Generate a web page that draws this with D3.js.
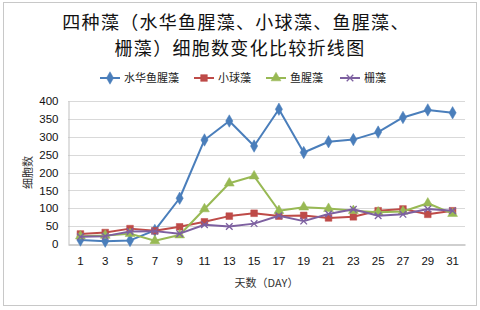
<!DOCTYPE html>
<html>
<head>
<meta charset="utf-8">
<script src="https://cdn.jsdelivr.net/npm/d3@7"></script>
<style>
  body { margin: 0; background: #fff; }
  text { font-family: "Liberation Sans", "Noto Sans CJK SC", sans-serif; }
  .cjk { font-family: "Noto Sans CJK SC", sans-serif; }
</style>
</head>
<body>
<div id="chart"></div>
<script>
// data
const days = ["1", "3", "5", "7", "9", "11", "13", "15", "17", "19", "21", "23", "25", "27", "29", "31"];
const shuihua = [11, 8, 10, 38, 128, 291, 344, 274, 377, 256, 286, 292, 313, 354, 375, 367];
const xiaoqiu = [28, 32, 43, 37, 48, 62, 78, 86, 78, 80, 73, 76, 93, 98, 83, 93];
const yuxing = [22, 24, 29, 9, 25, 98, 170, 190, 93, 103, 99, 93, 89, 91, 114, 85];
const shanzao = [20, 22, 35, 36, 29, 54, 49, 57, 79, 64, 84, 97, 79, 83, 98, 93];
const seriesNames = ["水华鱼腥藻", "小球藻", "鱼腥藻", "栅藻"];
const yTicks = [0, 50, 100, 150, 200, 250, 300, 350, 400];

const W = 480, H = 310;
const margin = { top: 101, right: 15, bottom: 66, left: 68 };
const width = W - margin.left - margin.right;
const height = H - margin.top - margin.bottom;

const series = [
    { name: seriesNames[0], values: shuihua, color: "#4A7EBB", marker: d3.symbolDiamond, size: 45 },
    { name: seriesNames[1], values: xiaoqiu, color: "#BE4B48", marker: d3.symbolSquare, size: 45 },
    { name: seriesNames[2], values: yuxing, color: "#98B954", marker: d3.symbolTriangle, size: 42 },
    { name: seriesNames[3], values: shanzao, color: "#7D60A0", marker: d3.symbolX, size: 30 }
];

const svg = d3.select("#chart").append("svg")
    .attr("width", W)
    .attr("height", H);

// outer frame
svg.append("rect")
    .attr("x", 3.5).attr("y", 2.5)
    .attr("width", 473).attr("height", 303)
    .attr("fill", "#fff")
    .attr("stroke", "#c8c8c8")
    .attr("stroke-width", 1);

// title
const title = svg.append("text")
    .attr("class", "cjk")
    .attr("text-anchor", "middle")
    .style("font-size", "18px")
    .style("letter-spacing", "1.3px")
    .attr("fill", "#111");
title.append("tspan").attr("x", 236).attr("y", 29).text("四种藻（水华鱼腥藻、小球藻、鱼腥藻、");
title.append("tspan").attr("x", 240).attr("y", 55).text("栅藻）细胞数变化比较折线图");

const g = svg.append("g")
    .attr("transform", `translate(${margin.left},${margin.top})`);

const x = d3.scaleBand()
    .domain(days)
    .range([0, width]);

const y = d3.scaleLinear()
    .domain([0, 400])
    .range([height, 0]);

// gridlines
g.selectAll(".grid")
    .data(yTicks.slice(1))
    .enter().append("line")
    .attr("x1", 0).attr("x2", width)
    .attr("y1", d => Math.round(y(d)) + 0.5)
    .attr("y2", d => Math.round(y(d)) + 0.5)
    .attr("stroke", "#d9d9d9")
    .attr("stroke-width", 1.2);

// axes
const yAxis = g.append("g")
    .attr("transform", "translate(0.5,0)")
    .call(d3.axisLeft(y).tickValues(yTicks).tickSize(0).tickPadding(10));
yAxis.select(".domain").attr("stroke", "#bfbfbf");
yAxis.selectAll("text").style("font-size", "11.5px").attr("fill", "#111");

const xAxis = g.append("g")
    .attr("transform", `translate(0,${Math.round(height) + 0.5})`)
    .call(d3.axisBottom(x).tickSize(0).tickPadding(12));
xAxis.select(".domain").attr("stroke", "#bfbfbf").attr("stroke-width", 1.5);
xAxis.selectAll("text").style("font-size", "11.5px").attr("fill", "#111");

// axis titles
g.append("text")
    .attr("class", "cjk")
    .attr("transform", `translate(${-40},${height / 2}) rotate(-90)`)
    .attr("text-anchor", "middle")
    .attr("dy", "0.35em")
    .style("font-size", "11px")
    .attr("fill", "#333")
    .text("细胞数");

g.append("text")
    .attr("class", "cjk")
    .attr("x", width / 2)
    .attr("y", height + 43)
    .attr("text-anchor", "middle")
    .style("font-size", "11px")
    .attr("fill", "#333")
    .text("天数（DAY）");

// lines + markers
const line = d3.line()
    .x((d, i) => x(days[i]) + x.bandwidth() / 2)
    .y(d => y(d));

series.forEach(s => {
    g.append("path")
        .datum(s.values)
        .attr("fill", "none")
        .attr("stroke", s.color)
        .attr("stroke-width", 2)
        .attr("stroke-linejoin", "round")
        .attr("d", line);
    g.selectAll(null)
        .data(s.values)
        .enter().append("path")
        .attr("transform", (d, i) => `translate(${x(days[i]) + x.bandwidth() / 2},${y(d)})`)
        .attr("d", d3.symbol().type(s.marker).size(s.size))
        .attr("fill", s.color)
        .attr("stroke", s.color)
        .attr("stroke-width", s.marker === d3.symbolX ? 1.3 : 0.5);
});

// legend
const legendX = [100, 194, 266, 340];
const legend = svg.append("g").attr("transform", "translate(0,78)");
series.forEach((s, i) => {
    const item = legend.append("g").attr("transform", `translate(${legendX[i]},0)`);
    item.append("line")
        .attr("x1", 0).attr("x2", 20)
        .attr("stroke", s.color)
        .attr("stroke-width", 2);
    item.append("path")
        .attr("transform", "translate(10,0)")
        .attr("d", d3.symbol().type(s.marker).size(s.size))
        .attr("fill", s.color)
        .attr("stroke", s.color)
        .attr("stroke-width", s.marker === d3.symbolX ? 1.3 : 0.5);
    item.append("text")
        .attr("class", "cjk")
        .attr("x", 24)
        .attr("dy", "0.35em")
        .style("font-size", "11px")
        .attr("fill", "#222")
        .text(s.name);
});
</script>
</body>
</html>
